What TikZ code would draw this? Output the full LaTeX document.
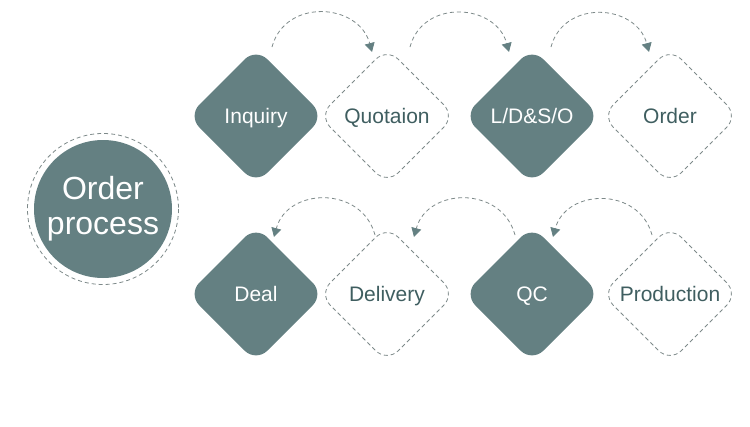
\documentclass[tikz,border=0pt]{standalone}
\usepackage{fontspec}
\setmainfont{Liberation Sans}
\usetikzlibrary{shapes.geometric,arrows.meta}
\definecolor{slate}{HTML}{648082}
\definecolor{slateText}{HTML}{3F5E60}
\definecolor{dashGray}{HTML}{7D8989}
\tikzset{
  dashline/.style={draw=dashGray, line width=0.8pt, dash pattern=on 4pt off 3pt},
  stepshape/.style={diamond, rounded corners=16pt, minimum size=136pt, inner sep=0pt, outer sep=0pt},
  steplabel/.style={font=\stepFont, text height=15pt, text depth=0pt, inner sep=0pt},
  flowarrow/.style={dashline, -{Triangle[width=10pt,length=9pt,fill=slate,color=slate]}},
}
\newcommand{\stepFont}{\fontsize{21}{25}\selectfont}

\begin{document}
\begin{tikzpicture}[x=1pt,y=-1pt]
    \newcommand{\darkStep}[3]{
        \node[stepshape, fill=slate, label={[steplabel,text=white]center:#3}] (#1) at (#2) {};
    }
    \newcommand{\lightStep}[3]{
        \node[stepshape, dashline, label={[steplabel,text=slateText]center:#3}] (#1) at (#2) {};
    }
  \useasboundingbox (0,0) rectangle (750,426);

  \node[circle, fill=slate, minimum size=138pt, inner sep=0pt, text=white,
        font=\fontsize{32}{35}\selectfont, align=center] (proc) at (103,209) {Order\\process};
  \draw[dashline] (proc.center) circle (75.5);

  % first row
  \darkStep{inq}{256,116}{Inquiry}
  \lightStep{quo}{387,116}{Quotaion}
  \darkStep{lds}{532,116}{L/D\&S/O}
  \lightStep{ord}{670,116}{Order}

  % second row
  \darkStep{deal}{256,294}{Deal}
  \lightStep{deliv}{387,294}{Delivery}
  \darkStep{qc}{532,294}{QC}
  \lightStep{prod}{670,294}{Production}

  \draw[flowarrow] ([xshift=16pt,yshift=1pt]inq.north) to[out=75,in=105,looseness=1.3] ([xshift=-15pt,yshift=-4pt]quo.north);
  \draw[flowarrow] ([xshift=23pt,yshift=1pt]quo.north) to[out=75,in=105,looseness=1.3] ([xshift=-23pt,yshift=-4pt]lds.north);
  \draw[flowarrow] ([xshift=19pt,yshift=1pt]lds.north) to[out=75,in=105,looseness=1.3] ([xshift=-21pt,yshift=-4pt]ord.north);

  \draw[flowarrow] ([xshift=-18pt,yshift=-9pt]prod.north) to[out=105,in=75,looseness=1.3] ([xshift=21pt,yshift=-11pt]qc.north);
  \draw[flowarrow] ([xshift=-17pt,yshift=-9pt]qc.north) to[out=105,in=75,looseness=1.3] ([xshift=27pt,yshift=-11pt]deliv.north);
  \draw[flowarrow] ([xshift=-12pt,yshift=-9pt]deliv.north) to[out=105,in=75,looseness=1.3] ([xshift=18pt,yshift=-11pt]deal.north);

\end{tikzpicture}
\end{document}
